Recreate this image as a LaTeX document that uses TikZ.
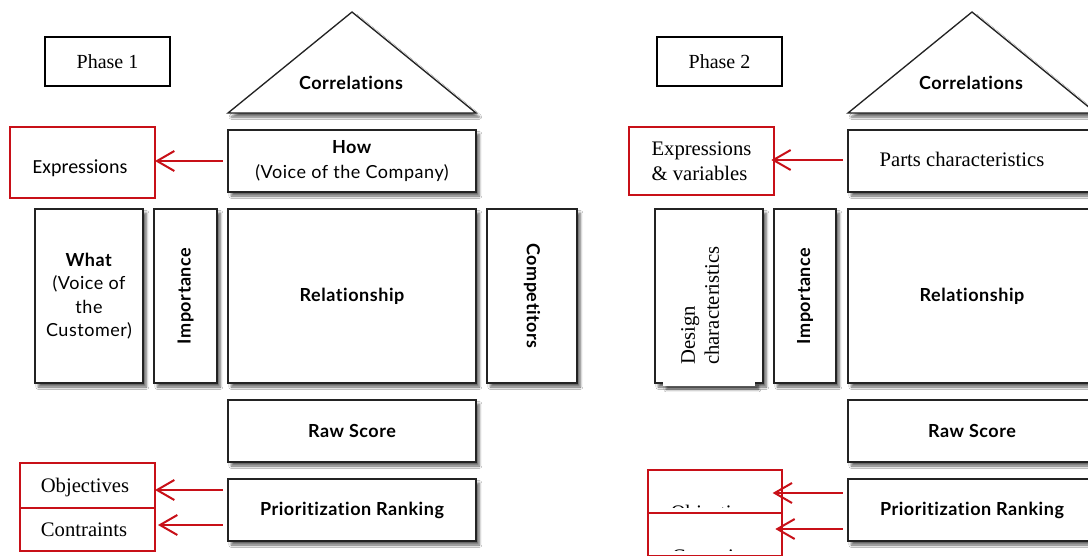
\documentclass[tikz,border=0pt]{standalone}
\usepackage{fontspec}
\setmainfont{Liberation Serif}
\setsansfont{Lato}[LetterSpace=3, Ligatures=NoCommon]
\newfontfamily\calibrifont{Carlito}
\usetikzlibrary{positioning, calc, arrows.meta, shadows.blur}
\definecolor{linkred}{RGB}{200,16,24}
\definecolor{edgegray}{RGB}{35,35,35}

\tikzset{
  houseshadow/.style={blur shadow={shadow xshift=2.5pt, shadow yshift=-3pt, shadow opacity=60, shadow blur steps=6}},
  block/.style={draw=edgegray, line width=1pt, fill=white, inner sep=0pt, outer sep=0pt, align=center,
    font=\sffamily\fontsize{13.5}{17.5}\selectfont, houseshadow},
  roof/.style={draw=edgegray, line width=1pt, fill=white, line join=miter, houseshadow},
  redbox/.style={draw=linkred, line width=1.1pt, fill=white, inner sep=0pt, outer sep=0pt, align=left,
    font=\fontsize{15.5}{18.5}\selectfont},
  redarrow/.style={draw=linkred, line width=1.5pt, -{Straight Barb[length=13pt, width=15pt, line width=1.5pt]}},
  phasebox/.style={draw=black, line width=0.9pt, inner sep=0pt, font=\fontsize{15}{18}\selectfont},
  boldlabel/.style={font=\sffamily\bfseries\fontsize{13.5}{17}\selectfont}
}

\begin{document}
\begin{tikzpicture}[x=0.75pt, y=-0.75pt]
    \clip (0,0) rectangle (1088,556);
    \fill[white] (0,0) rectangle (1088,556);

    % Phase 1
    \node[phasebox, minimum width=93.75pt, minimum height=36.75pt] (phaseA) at (107.5,61.5) {Phase 1};

    \draw[roof] (228,113) -- (352,12) -- (476,113) -- cycle;
    \node[boldlabel] (corrA) at (351,83) {Correlations};

    \node[block, minimum width=186pt, minimum height=46.5pt] (howA) at (352,161)
        {\textbf{How}\\[0.6pt](Voice of the Company)};
    \node[block, minimum width=81pt, minimum height=130.5pt] (whatA) at (89,296)
        {\textbf{What}\\(Voice of\\the\\Customer)};
    \node[block, minimum width=47.25pt, minimum height=130.5pt] (impA) at (185.5,296)
        {\rotatebox{90}{\bfseries Importance}};
    \node[block, minimum width=186pt, minimum height=130.5pt] (relA) at (352,296)
        {\bfseries Relationship};
    \node[block, minimum width=67.5pt, minimum height=130.5pt] (compA) at (532,296)
        {\rotatebox{-90}{\bfseries Competitors}};
    \node[block, minimum width=186pt, minimum height=46.5pt] (rawA) at (352,431)
        {\bfseries Raw Score};
    \node[block, minimum width=186pt, minimum height=46.5pt] (prioA) at (352,510)
        {\bfseries Prioritization Ranking};

    \node[redbox, minimum width=108.75pt, minimum height=53.25pt] (exprA) at (82.5,162.5) {};
    \node[font=\calibrifont\fontsize{15}{18}\selectfont] (exprTxtA) at (80,168) {Expressions};
    \node[redbox, minimum width=101.25pt, minimum height=33.75pt] (objA) at (87.5,485.5) {};
    \node[font=\fontsize{15.5}{18.5}\selectfont] (objTxtA) at (85,488) {Objectives};
    \node[redbox, minimum width=101.25pt, minimum height=32.25pt] (consA) at (87.5,529.5) {};
    \node[font=\fontsize{15.5}{18.5}\selectfont] (consTxtA) at (84,530) {Contraints};

    \draw[redarrow, shorten <=4pt] (howA.west) -- (exprA.east |- howA.west);
    \draw[redarrow, shorten <=4pt] ($(prioA.west)+(0,-20)$) -- ($(objA.east |- prioA.west)+(0,-20)$);
    \draw[redarrow, shorten <=4pt] ($(prioA.west)+(0,15)$) -- ($(consA.east |- prioA.west)+(3,15)$);

    % Phase 2
    \node[phasebox, minimum width=93.75pt, minimum height=36.75pt] (phaseB) at (719.5,61.5) {Phase 2};

    \draw[roof] (848,113) -- (972,12) -- (1096,113) -- cycle;
    \node[boldlabel] (corrB) at (971,83) {Correlations};

    \node[block, minimum width=186pt, minimum height=46.5pt] (partsB) at (972,161) {};
    \node[font=\fontsize{15.5}{18.5}\selectfont] (partsTxtB) at (962,159) {Parts characteristics};
    \node[block, minimum width=81pt, minimum height=130.5pt] (designB) at (709,296) {};
    \fill[white, houseshadow] (663,381.5) rectangle (755,385.5);
    \node[rotate=90, anchor=west, align=left, inner sep=0pt, font=\fontsize{15.5}{18}\selectfont]
        (designTxtB) at (700,365) {Design\\characteristics};
    \node[block, minimum width=46.5pt, minimum height=130.5pt] (impB) at (805,296)
        {\rotatebox{90}{\bfseries Importance}};
    \node[block, minimum width=186pt, minimum height=130.5pt] (relB) at (972,296)
        {\bfseries Relationship};
    \node[block, minimum width=186pt, minimum height=46.5pt] (rawB) at (972,431)
        {\bfseries Raw Score};
    \node[block, minimum width=186pt, minimum height=46.5pt] (prioB) at (972,510)
        {\bfseries Prioritization Ranking};

    \node[redbox, minimum width=108.75pt, minimum height=51pt] (exprB) at (701.5,161)
        {Expressions\\\& variables};
    \node[redbox, minimum width=100.5pt, minimum height=32.25pt] (objB) at (715,491.5) {};
    \node[redbox, minimum width=100.5pt, minimum height=32.25pt] (consB) at (715,534.5) {};
    \begin{scope}
        \clip (648,470) rectangle (782,507);
        \node[anchor=base, font=\fontsize{15.5}{18.5}\selectfont] (objTxtB) at (715,519) {Objectives};
    \end{scope}
    \begin{scope}
        \clip (648,513) rectangle (782,550);
        \node[anchor=base, font=\fontsize{15.5}{18.5}\selectfont] (consTxtB) at (715,563) {Contraints};
    \end{scope}

    \draw[redarrow, shorten <=4pt, shorten >=-2pt] (partsB.west |- 0,160) -- (exprB.east |- 0,160);
    \draw[redarrow, shorten <=4pt, shorten >=-7pt] ($(prioB.west)+(0,-17)$) -- ($(objB.east |- prioB.west)+(0,-17)$);
    \draw[redarrow, shorten <=4pt, shorten >=-5pt] ($(prioB.west)+(0,19)$) -- ($(consB.east |- prioB.west)+(0,19)$);
\end{tikzpicture}
\end{document}
